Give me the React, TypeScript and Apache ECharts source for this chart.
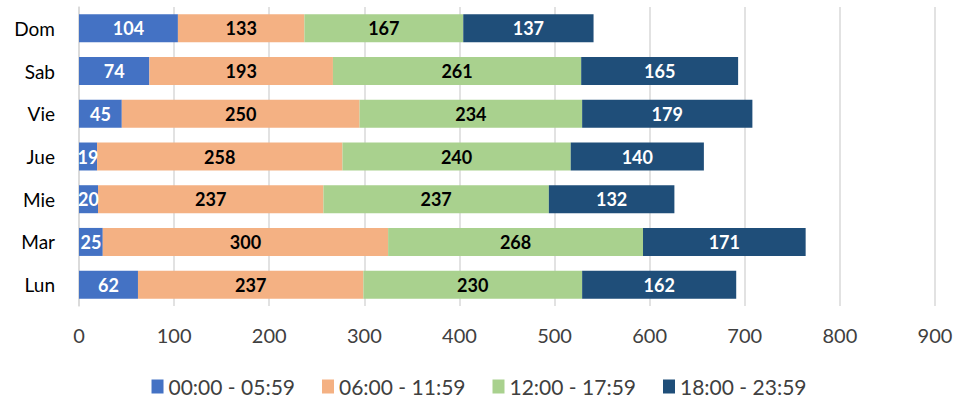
import React, { useEffect, useRef } from "react";
import * as echarts from "echarts";

const categories = ["Lun", "Mar", "Mie", "Jue", "Vie", "Sab", "Dom"];
const seriesNames = ["00:00 - 05:59", "06:00 - 11:59", "12:00 - 17:59", "18:00 - 23:59"];
const s1 = [62, 25, 20, 19, 45, 74, 104];
const s2 = [237, 300, 237, 258, 250, 193, 133];
const s3 = [230, 268, 237, 240, 234, 261, 167];
const s4 = [162, 171, 132, 140, 179, 165, 137];
const colors = ["#4472C4", "#F4B183", "#A9D18E", "#1F4E79"];
const labelColors = ["#FFFFFF", "#000000", "#000000", "#FFFFFF"];

const FONT = "Lato, 'Liberation Sans', sans-serif";

export default function App() {
  const ref = useRef<HTMLDivElement>(null);
  useEffect(() => {
    if (!ref.current) return;
    const chart = echarts.init(ref.current, null, { renderer: "svg" });
    const data = [s1, s2, s3, s4];
    chart.setOption({
      animation: false,
      textStyle: { fontFamily: FONT },
      grid: { left: 79, right: 23, top: 7, bottom: 96, containLabel: false },
      legend: {
        bottom: 0,
        left: "center",
        itemWidth: 12,
        itemHeight: 14,
        itemGap: 27,
        icon: "rect",
        textStyle: { fontSize: 21, color: "#404040", fontFamily: FONT },
        data: seriesNames,
      },
      xAxis: {
        type: "value",
        min: 0,
        max: 900,
        interval: 100,
        axisLine: { show: false },
        axisTick: { show: false },
        splitLine: { lineStyle: { color: "#D9D9D9", width: 1.5 } },
        axisLabel: { fontSize: 20, color: "#404040", margin: 19, fontFamily: FONT },
      },
      yAxis: {
        type: "category",
        data: categories,
        axisLine: { show: true, lineStyle: { color: "#D9D9D9", width: 1.5 } },
        axisTick: { show: false },
        axisLabel: { fontSize: 19, color: "#000000", margin: 24, fontFamily: FONT },
      },
      series: data.map((d, i) => ({
        name: seriesNames[i],
        type: "bar",
        stack: "total",
        data: d,
        barWidth: 28,
        itemStyle: { color: colors[i] },
        label: {
          show: true,
          position: "inside",
          color: labelColors[i],
          fontWeight: "bold",
          fontSize: 18,
          fontFamily: FONT,
        },
      })),
    });
    return () => chart.dispose();
  }, []);
  return (
    <div
      ref={ref}
      style={{ position: "absolute", left: 0, top: 0, width: 958, height: 402 }}
    />
  );
}
